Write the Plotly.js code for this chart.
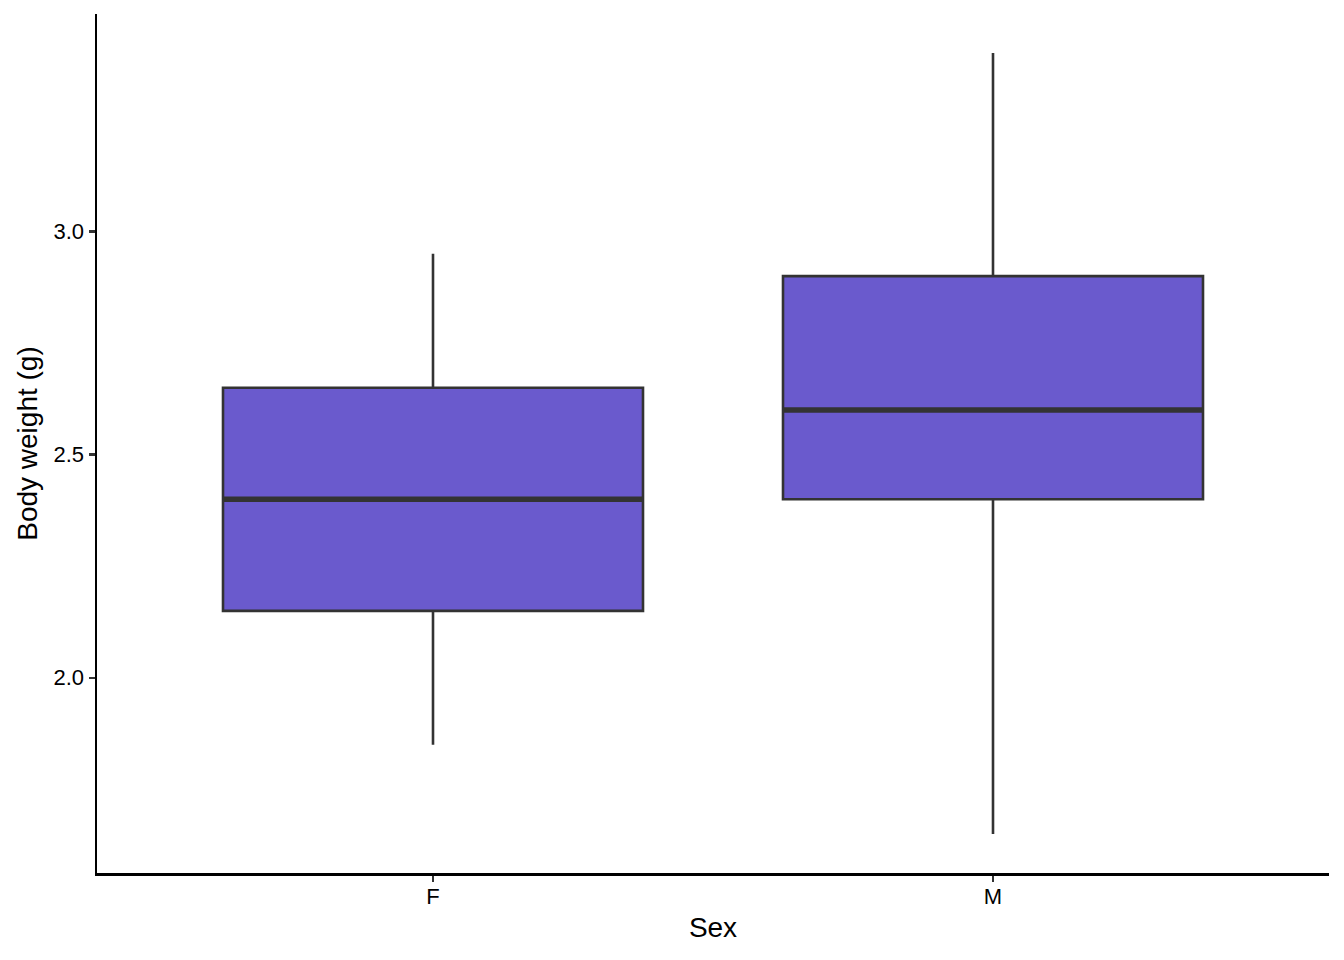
<!DOCTYPE html>
<html>
<head>
<meta charset="utf-8">
<script src="https://cdn.plot.ly/plotly-3.0.1.min.js"></script>
<style>html,body{margin:0;padding:0;background:#fff;}#chart{width:1344px;height:960px;}</style>
</head>
<body>
<div id="chart"></div>
<script>
// Data
const categories = ['F', 'M'];
const q1 = [2.15, 2.40];
const median = [2.40, 2.60];
const q3 = [2.65, 2.90];
const lowerWhisker = [1.85, 1.65];
const upperWhisker = [2.95, 3.40];
const yTicks = [2.0, 2.5, 3.0];

const xs = categories.map((c, i) => i + 1);
const boxWidth = 0.75;

const medX = [], medY = [];
xs.forEach((x, i) => {
  medX.push(x - boxWidth / 2, x + boxWidth / 2, null);
  medY.push(median[i], median[i], null);
});

const traces = [
  {
    type: 'box',
    x: xs,
    q1: q1,
    median: median,
    q3: q3,
    lowerfence: lowerWhisker,
    upperfence: upperWhisker,
    width: boxWidth,
    whiskerwidth: 0,
    fillcolor: '#6A5ACD',
    line: {color: '#333333', width: 2.6},
    boxpoints: false,
    showlegend: false,
    hoverinfo: 'y'
  },
  {
    type: 'scatter',
    mode: 'lines',
    x: medX,
    y: medY,
    line: {color: '#333333', width: 5.5},
    showlegend: false,
    hoverinfo: 'skip'
  }
];

const yMin = Math.min(...lowerWhisker), yMax = Math.max(...upperWhisker);
const pad = (yMax - yMin) * 0.05;

const layout = {
  width: 1344,
  height: 960,
  margin: {l: 97, r: 15, t: 14, b: 87},
  paper_bgcolor: '#ffffff',
  plot_bgcolor: '#ffffff',
  font: {family: 'Liberation Sans, Arial, sans-serif', color: '#000000'},
  showlegend: false,
  xaxis: {
    range: [0.4, xs.length + 0.6],
    tickvals: xs,
    ticktext: categories,
    showgrid: false,
    zeroline: false,
    showline: true,
    linecolor: '#000000',
    linewidth: 2.5,
    ticks: 'outside',
    ticklen: 6,
    tickwidth: 2.5,
    tickcolor: '#333333',
    ticklabelstandoff: -4,
    tickfont: {size: 22, color: '#000000'},
    title: {text: 'Sex', font: {size: 28, color: '#000000'}, standoff: 10}
  },
  yaxis: {
    range: [yMin - pad, yMax + pad],
    tickvals: yTicks,
    ticktext: yTicks.map(v => v.toFixed(1)),
    showgrid: false,
    zeroline: false,
    showline: true,
    linecolor: '#000000',
    linewidth: 2.5,
    ticks: 'outside',
    ticklen: 6,
    tickwidth: 2.5,
    tickcolor: '#333333',
    tickfont: {size: 22, color: '#000000'},
    title: {text: 'Body weight (g)', font: {size: 28, color: '#000000'}, standoff: 8}
  }
};

Plotly.newPlot('chart', traces, layout, {displayModeBar: false, staticPlot: true});
</script>
</body>
</html>
